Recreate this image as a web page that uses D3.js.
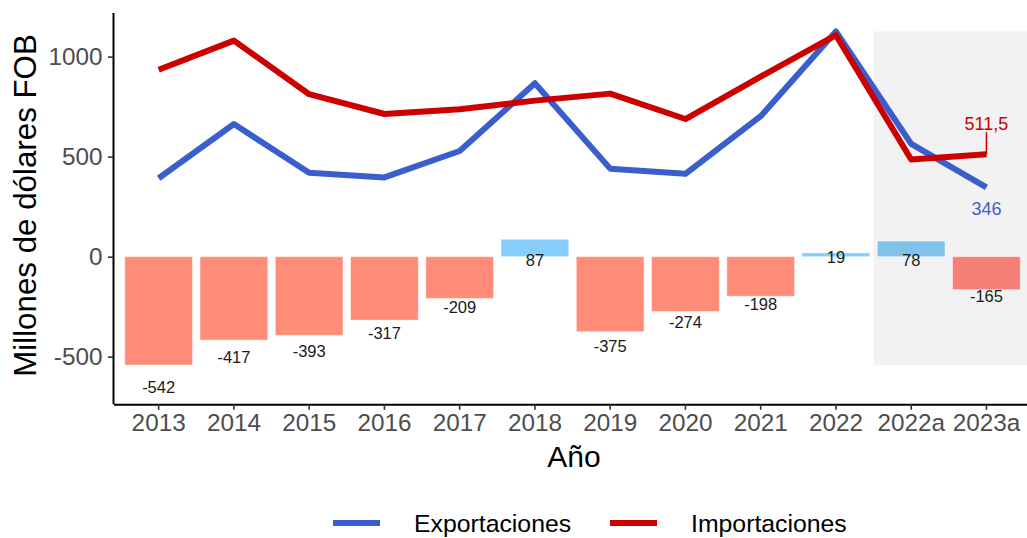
<!DOCTYPE html>
<html>
<head>
<meta charset="utf-8">
<script src="https://cdn.jsdelivr.net/npm/d3@7"></script>
<style>
  html, body { margin: 0; padding: 0; background: #ffffff; }
  svg { display: block; font-family: "Liberation Sans", Arial, Helvetica, sans-serif; }
</style>
</head>
<body>
<svg id="chart" width="1027" height="538"></svg>
<script>
// ---- data ----
const categories = ["2013","2014","2015","2016","2017","2018","2019","2020","2021","2022","2022a","2023a"];
const exportaciones = [392, 663, 419, 396, 528, 867, 440, 414, 702, 1126, 564, 346];
const importaciones = [934, 1080, 812, 713, 737, 780, 815, 688, 900, 1107, 486, 511.5];
const balanza = [-542, -417, -393, -317, -209, 87, -375, -274, -198, 19, 78, -165];
const shadedCategories = ["2022a", "2023a"];
const yTicks = [-500, 0, 500, 1000];
const yTickLabels = ["-500", "0", "500", "1000"];
const seriesNames = ["Exportaciones", "Importaciones"];
const lastImportLabel = "511,5";
const lastExportLabel = "346";

// ---- layout ----
const panel = { left: 113.5, right: 1031.6, top: 13, bottom: 404.3 };
const colExp = "#3A5FCD", colImp = "#CD0000";
const colNeg = "#FF8C78", colPos = "#87CEFA";
const colNegShade = "#F47F76", colPosShade = "#80C2EC";

const svg = d3.select("#chart");

const x = d3.scaleBand().domain(categories)
  .range([panel.left, panel.right])
  .paddingInner(0.1).paddingOuter(0.15);
const step = x.step();
const cx = c => x(c) + x.bandwidth() / 2;

const y = d3.scaleLinear().domain([-738, 1218]).range([panel.bottom, panel.top]);

// shaded region
const shadeStart = cx(shadedCategories[0]) - step / 2;
svg.append("rect")
  .attr("x", shadeStart)
  .attr("y", y(d3.max(exportaciones)))
  .attr("width", panel.right - shadeStart)
  .attr("height", y(d3.min(balanza)) - y(d3.max(exportaciones)))
  .attr("fill", "#F2F2F2");

// bars
const barData = categories.map((c, i) => ({ c, v: balanza[i], shaded: shadedCategories.includes(c) }));
svg.append("g").selectAll("rect").data(barData).join("rect")
  .attr("x", d => x(d.c))
  .attr("width", x.bandwidth())
  .attr("y", d => y(Math.max(0, d.v)))
  .attr("height", d => Math.abs(y(d.v) - y(0)))
  .attr("fill", d => d.v < 0 ? (d.shaded ? colNegShade : colNeg) : (d.shaded ? colPosShade : colPos))
  .attr("stroke", "#ffffff").attr("stroke-opacity", 0.45).attr("stroke-width", 1);

// bar labels
svg.append("g").selectAll("text").data(barData).join("text")
  .attr("x", d => cx(d.c))
  .attr("y", d => y(d.v < 0 ? d.v * 1.2 : -d.v * 0.2))
  .attr("dy", "0.35em")
  .attr("text-anchor", "middle")
  .attr("font-size", 16.5)
  .attr("fill", "#1A1A1A")
  .text(d => d.v);

// lines
const line = d3.line().x((d, i) => cx(categories[i])).y(d => y(d)).curve(d3.curveLinear);
svg.append("path").datum(exportaciones)
  .attr("d", line).attr("fill", "none").attr("stroke", colExp)
  .attr("stroke-width", 6).attr("stroke-linejoin", "round");
svg.append("path").datum(importaciones)
  .attr("d", line).attr("fill", "none").attr("stroke", colImp)
  .attr("stroke-width", 6).attr("stroke-linejoin", "round");

// end labels
const lastC = categories[categories.length - 1];
const lastImp = importaciones[importaciones.length - 1];
const lastExp = exportaciones[exportaciones.length - 1];
svg.append("line")
  .attr("x1", cx(lastC)).attr("x2", cx(lastC))
  .attr("y1", y(lastImp)).attr("y2", y(lastImp + 110))
  .attr("stroke", colImp).attr("stroke-width", 1.5);
svg.append("text")
  .attr("x", cx(lastC)).attr("y", y(lastImp + 153)).attr("dy", "0.35em")
  .attr("text-anchor", "middle").attr("font-size", 18).attr("fill", colImp)
  .text(lastImportLabel);
svg.append("text")
  .attr("x", cx(lastC)).attr("y", y(lastExp - 108)).attr("dy", "0.35em")
  .attr("text-anchor", "middle").attr("font-size", 18).attr("fill", colExp)
  .text(lastExportLabel);

// axes
const yAxis = svg.append("g").attr("transform", `translate(${panel.left},0)`)
  .call(d3.axisLeft(y).tickValues(yTicks).tickFormat((d, i) => yTickLabels[i])
    .tickSize(5.5).tickSizeOuter(0).tickPadding(5.5));
const xAxis = svg.append("g").attr("transform", `translate(0,${panel.bottom})`)
  .call(d3.axisBottom(x).tickSize(5.5).tickSizeOuter(0).tickPadding(4));
[yAxis, xAxis].forEach(g => {
  g.select(".domain").attr("stroke", "#000").attr("stroke-width", 2);
  g.selectAll(".tick line").attr("stroke", "#333").attr("stroke-width", 1.6);
  g.selectAll(".tick text").attr("fill", "#4D4D4D").attr("font-size", 24.3)
    .attr("font-family", "'Liberation Sans', Arial, sans-serif");
});
yAxis.select(".domain").attr("d", `M0,${panel.top}V${panel.bottom}`);

// axis titles
svg.append("text")
  .attr("x", 574).attr("y", 467)
  .attr("text-anchor", "middle").attr("font-size", 30).attr("fill", "#000")
  .text("Año");
svg.append("text")
  .attr("transform", `translate(35.5,${205.5}) rotate(-90)`)
  .attr("text-anchor", "middle").attr("font-size", 31.3).attr("fill", "#000")
  .text("Millones de dólares FOB");

// legend
const legend = svg.append("g");
const legendItems = [
  { name: seriesNames[0], color: colExp, x0: 333, tx: 414 },
  { name: seriesNames[1], color: colImp, x0: 610, tx: 691 }
];
legendItems.forEach(it => {
  legend.append("line").attr("x1", it.x0).attr("x2", it.x0 + 47)
    .attr("y1", 523).attr("y2", 523).attr("stroke", it.color).attr("stroke-width", 6);
  legend.append("text").attr("x", it.tx).attr("y", 531.5)
    .attr("font-size", 24.8).attr("fill", "#000").text(it.name);
});
</script>
</body>
</html>
